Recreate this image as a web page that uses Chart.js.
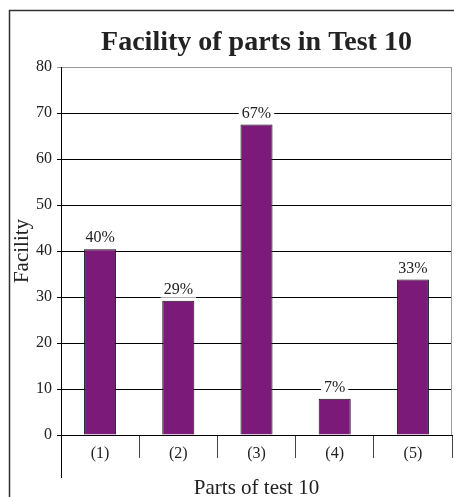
<!DOCTYPE html>
<html>
<head>
<meta charset="utf-8">
<script src="https://cdn.jsdelivr.net/npm/chart.js@4/dist/chart.umd.min.js"></script>
<style>
  html, body { margin: 0; padding: 0; background: #fff; }
  #wrap { width: 454px; height: 497px; }
</style>
</head>
<body>
<div id="wrap"><canvas id="grafico" width="454" height="497"></canvas></div>
<script>
// data
const partes = ['(1)', '(2)', '(3)', '(4)', '(5)'];
const facilidade = [40.4, 29.2, 67.5, 7.9, 33.8];
const rotulos = ['40%', '29%', '67%', '7%', '33%'];
const titulo = 'Facility of parts in Test 10';

const serif = "'Liberation Serif', 'DejaVu Serif', serif";

// frame, title over the plot, labels over bars, long left line
const extras = {
  id: 'extras',
  beforeDraw(chart) {
    const c = chart.ctx;
    c.save();
    c.fillStyle = '#fff';
    c.fillRect(0, 0, chart.width, chart.height);
    c.strokeStyle = '#333';
    c.lineWidth = 1.5;
    c.strokeRect(9.5, 10.5, 480, 520);
    c.restore();
  },
  afterDraw(chart) {
    const c = chart.ctx;
    const area = chart.chartArea;
    c.save();
    // title centred on the plot area
    c.font = 'bold 28px ' + serif;
    c.fillStyle = '#222';
    c.textAlign = 'center';
    c.textBaseline = 'middle';
    c.fillText(titulo, (area.left + area.right) / 2, 43);
    // right border of plot
    c.strokeStyle = '#999';
    c.lineWidth = 1;
    c.beginPath();
    c.moveTo(Math.round(area.right) - 0.5, area.top);
    c.lineTo(Math.round(area.right) - 0.5, area.bottom);
    c.stroke();
    // left axis line down to the bottom
    c.strokeStyle = '#000';
    c.beginPath();
    c.moveTo(Math.round(area.left) + 0.5, area.top);
    c.lineTo(Math.round(area.left) + 0.5, area.bottom + 43);
    c.stroke();
    // value labels
    const meta = chart.getDatasetMeta(0);
    c.font = '16px ' + serif;
    meta.data.forEach((bar, i) => {
      const y = bar.y - 11;
      const w = c.measureText(rotulos[i]).width + 6;
      c.fillStyle = '#fff';
      c.fillRect(bar.x - w / 2, y - 8, w, 16);
      c.fillStyle = '#222';
      c.fillText(rotulos[i], bar.x, y);
    });
    c.restore();
  }
};

const graficoFacilidade = new Chart(document.getElementById('grafico'), {
  type: 'bar',
  data: {
    labels: partes,
    datasets: [{
      label: 'Facility',
      data: facilidade,
      backgroundColor: '#7b1a78',
      borderColor: '#111',
      borderWidth: 1,
      barPercentage: 0.41,
      categoryPercentage: 1
    }]
  },
  options: {
    responsive: false,
    animation: false,
    layout: { padding: { left: 10, right: 2, top: 67, bottom: 0 } },
    plugins: {
      legend: { display: false },
      tooltip: { enabled: false },
      title: { display: false }
    },
    scales: {
      x: {
        grid: {
          drawOnChartArea: false,
          tickLength: 23,
          color: (ctx) => (ctx.index === 0 || ctx.index === 5) ? 'rgba(0,0,0,0)' : '#444'
        },
        border: { color: '#000', width: 1 },
        ticks: { color: '#222', font: { family: serif, size: 16 }, padding: -14 },
        title: {
          display: true,
          text: 'Parts of test 10',
          color: '#222',
          font: { family: serif, size: 21 },
          padding: { top: 10, bottom: -4 }
        },
        afterFit(scale) { scale.height = 62; }
      },
      y: {
        min: 0,
        max: 80,
        ticks: { stepSize: 10, color: '#222', font: { family: serif, size: 16 }, padding: 5 },
        grid: {
          color: (ctx) => ctx.tick && ctx.tick.value === 80 ? '#999' : '#000',
          tickLength: 4
        },
        border: { color: '#000' },
        title: {
          display: true,
          text: 'Facility',
          color: '#222',
          font: { family: serif, size: 21 },
          padding: { top: 0, bottom: 0 }
        },
        afterFit(scale) { scale.width = 51; }
      }
    }
  },
  plugins: [extras]
});
</script>
</body>
</html>
